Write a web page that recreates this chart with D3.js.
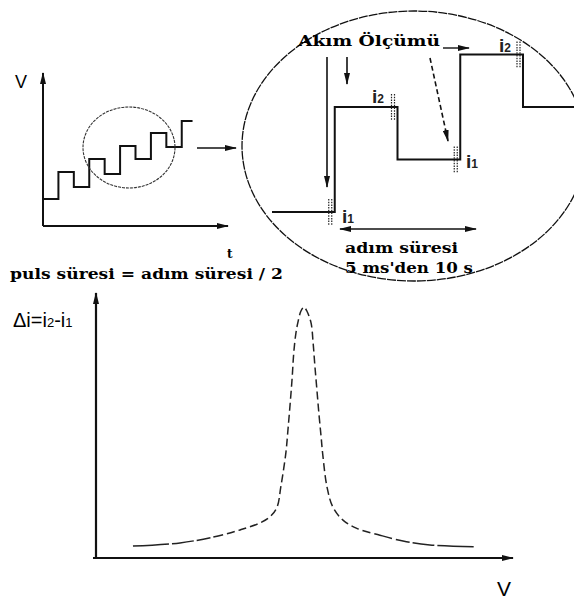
<!DOCTYPE html>
<html>
<head>
<meta charset="utf-8">
<script src="https://cdn.jsdelivr.net/npm/d3@7"></script>
<style>
  html, body { margin: 0; padding: 0; background: #fff; }
  svg { display: block; }
  .serif { font-family: "DejaVu Serif", "Liberation Serif", serif; font-weight: bold; }
  .sans { font-family: "Liberation Sans", Arial, sans-serif; }
</style>
</head>
<body>
<svg id="chart" width="574" height="601"></svg>
<script>
// Overview staircase: step edges (time units) and the voltage held on each step
const overviewTimes  = [0, 1, 2, 3, 4, 5, 6, 7, 8, 9, 9.7];
const overviewLevels = [1.76, 3.53, 2.55, 4.38, 3.40, 5.23, 4.38, 6.08, 5.16, 6.86];

// Magnified part of the staircase (inside the large circle)
const detailTimes  = [0, 1, 2, 3, 4, 4.82];
const detailLevels = [0, 2, 1, 3, 2];

// Current samples taken at the end of each step: step index, label, subscript
const sampleSteps = [1, 2, 3, 4];
const sampleNames = ["i", "i", "i", "i"];
const sampleSubs  = ["1", "2", "1", "2"];

// Differential response Δi = i2 - i1 versus V
const peakV = [0.88, 2.0, 2.79, 3.43, 3.90, 4.14, 4.31, 4.40, 4.52, 4.57, 4.62, 4.67,
               4.71, 4.76, 4.81, 4.88, 4.95, 5.02, 5.12, 5.17, 5.21, 5.26, 5.31, 5.36,
               5.40, 5.50, 5.64, 5.88, 6.21, 6.76, 7.31, 7.95, 9.05];
const peakDeltaI = [0.45, 0.57, 0.79, 1.06, 1.32, 1.55, 1.92, 2.68, 3.96, 4.83, 5.77, 6.79,
                    7.77, 8.49, 8.91, 9.32, 9.47, 9.32, 8.87, 8.11, 7.28, 6.34, 5.40, 4.57,
                    3.89, 2.68, 1.92, 1.43, 1.12, 0.86, 0.64, 0.49, 0.42];

const svg = d3.select("#chart");
const ink = "#111";

// arrow heads
const defs = svg.append("defs");
defs.append("marker")
  .attr("id", "head")
  .attr("markerUnits", "userSpaceOnUse")
  .attr("viewBox", "0 0 12 6")
  .attr("markerWidth", 12).attr("markerHeight", 6)
  .attr("refX", 11).attr("refY", 3)
  .attr("orient", "auto-start-reverse")
  .append("path").attr("d", "M0,0 L12,3 L0,6 Z").attr("fill", ink);

function arrow(x1, y1, x2, y2, opts = {}) {
  const l = svg.append("line")
    .attr("x1", x1).attr("y1", y1).attr("x2", x2).attr("y2", y2)
    .attr("stroke", ink).attr("stroke-width", opts.w || 1.6)
    .attr("marker-end", "url(#head)");
  if (opts.both) l.attr("marker-start", "url(#head)");
  if (opts.dash) l.attr("stroke-dasharray", opts.dash);
  return l;
}

/* ---------- top-left: staircase overview ---------- */
const xOver = d3.scaleLinear().domain([0, 12]).range([43, 228]);
const yOver = d3.scaleLinear().domain([0, 10]).range([226, 73]);

arrow(xOver(0), yOver(0), xOver(0), yOver(10), { w: 2 });
arrow(xOver(0), yOver(0), xOver(12), yOver(0), { w: 2 });

const overviewPts = overviewLevels.map((v, i) => [overviewTimes[i], v]);
overviewPts.push([overviewTimes[overviewTimes.length - 1], overviewLevels[overviewLevels.length - 1]]);
svg.append("path")
  .attr("d", d3.line().x(d => xOver(d[0])).y(d => yOver(d[1])).curve(d3.curveStepAfter)(overviewPts))
  .attr("fill", "none").attr("stroke", ink).attr("stroke-width", 2);

// circle marking the magnified region
svg.append("ellipse")
  .attr("cx", 129).attr("cy", 147.5).attr("rx", 46).attr("ry", 40.5)
  .attr("fill", "none").attr("stroke", "#333").attr("stroke-width", 1.1)
  .attr("stroke-dasharray", "3,1");

arrow(197, 148, 236, 148, { w: 1.6 });

svg.append("text").attr("class", "sans").attr("x", 15).attr("y", 88)
  .attr("font-size", 18).text("V");
svg.append("text").attr("class", "serif").attr("x", 227).attr("y", 258)
  .attr("font-size", 12).text("t");
svg.append("text").attr("class", "serif").attr("x", 10).attr("y", 279)
  .attr("font-size", 14).attr("textLength", 273).attr("lengthAdjust", "spacingAndGlyphs")
  .text("puls süresi = adım süresi / 2");

/* ---------- top-right: magnified staircase ---------- */
svg.append("ellipse")
  .attr("cx", 414).attr("cy", 146).attr("rx", 172).attr("ry", 135)
  .attr("fill", "none").attr("stroke", ink).attr("stroke-width", 1.3)
  .attr("stroke-dasharray", "9,1");

const xDet = d3.scaleLinear().domain([0, 1]).range([272, 334.75]);
const yDet = d3.scaleLinear().domain([0, 1]).range([212, 159.5]);

const detailPts = detailLevels.map((v, i) => [detailTimes[i], v]);
detailPts.push([detailTimes[detailTimes.length - 1], detailLevels[detailLevels.length - 1]]);
svg.append("path")
  .attr("d", d3.line().x(d => xDet(d[0])).y(d => yDet(d[1])).curve(d3.curveStepAfter)(detailPts))
  .attr("fill", "none").attr("stroke", ink).attr("stroke-width", 2);

// sampling marks and current labels at the end of each step
sampleSteps.forEach(s => {
  const x = xDet(s), y = yDet(detailLevels[s - 1]);
  [-6, -3].forEach(dx => {
    svg.append("line")
      .attr("x1", x + dx).attr("x2", x + dx)
      .attr("y1", y - 13).attr("y2", y + 13)
      .attr("stroke", "#222").attr("stroke-width", 1.2)
      .attr("stroke-dasharray", "1.5,1.2");
  });
});
const labelSpots = [[342, 223], [372, 103], [466, 168], [499, 52]];
sampleSteps.forEach((s, k) => {
  const t = svg.append("text").attr("class", "sans")
    .attr("x", labelSpots[k][0]).attr("y", labelSpots[k][1])
    .attr("font-size", 19).attr("font-weight", "bold").attr("fill", "#222");
  t.append("tspan").text(sampleNames[k]);
  t.append("tspan").attr("font-size", 12).attr("font-weight", "bold").text(sampleSubs[k]);
});

svg.append("text").attr("class", "serif").attr("x", 298).attr("y", 46)
  .attr("font-size", 15).attr("textLength", 142).attr("lengthAdjust", "spacingAndGlyphs")
  .text("Akım Ölçümü");

arrow(327, 57, 327, 187, { w: 1.6 });
arrow(347, 57, 347, 84, { w: 1.6 });
arrow(430, 58, 448, 141, { w: 1.6, dash: "5,3" });
arrow(443, 48, 469, 48, { w: 1.4 });
arrow(340, 229, 476, 229, { w: 1.4, both: true });

svg.append("text").attr("class", "serif").attr("x", 345).attr("y", 253)
  .attr("font-size", 14).attr("textLength", 113).attr("lengthAdjust", "spacingAndGlyphs")
  .text("adım süresi");
svg.append("text").attr("class", "serif").attr("x", 345).attr("y", 273)
  .attr("font-size", 14).attr("textLength", 128).attr("lengthAdjust", "spacingAndGlyphs")
  .text("5 ms'den 10 s");

/* ---------- bottom: Δi versus V ---------- */
const xV = d3.scaleLinear().domain([0, 10]).range([96, 516]);
const yI = d3.scaleLinear().domain([0, 10]).range([558, 293]);

arrow(xV(0), yI(0) + 1, xV(0), yI(10), { w: 2.2 });
arrow(xV(0) - 3, yI(0), xV(10) - 3, yI(0), { w: 2 });

const peakPath = svg.append("path")
  .attr("d", d3.line().x((d, i) => xV(peakV[i])).y(d => yI(d)).curve(d3.curveCatmullRom.alpha(0.5))(peakDeltaI))
  .attr("fill", "none").attr("stroke", "#222").attr("stroke-width", 1.5);

// long dashes on the flat tails, short dashes along the peak
const total = peakPath.node().getTotalLength();
const ends = [36, 3, 22, 3, 14, 3, 10, 4];
const endLen = d3.sum(ends);
const dashes = ends.slice();
let used = endLen;
while (used + 12 < total - endLen) { dashes.push(8, 4); used += 12; }
dashes.push(total - endLen - used, 0);
dashes.push(...ends.slice().reverse().map((d, i, a) => a[i ^ 1]));
peakPath.attr("stroke-dasharray", dashes.join(","));

const di = svg.append("text").attr("class", "sans").attr("x", 13).attr("y", 327)
  .attr("font-size", 20);
di.append("tspan").text("Δi=i");
di.append("tspan").attr("font-size", 13).text("2");
di.append("tspan").text("-i");
di.append("tspan").attr("font-size", 13).text("1");

svg.append("text").attr("class", "sans").attr("x", 497).attr("y", 596)
  .attr("font-size", 21).text("V");
</script>
</body>
</html>
